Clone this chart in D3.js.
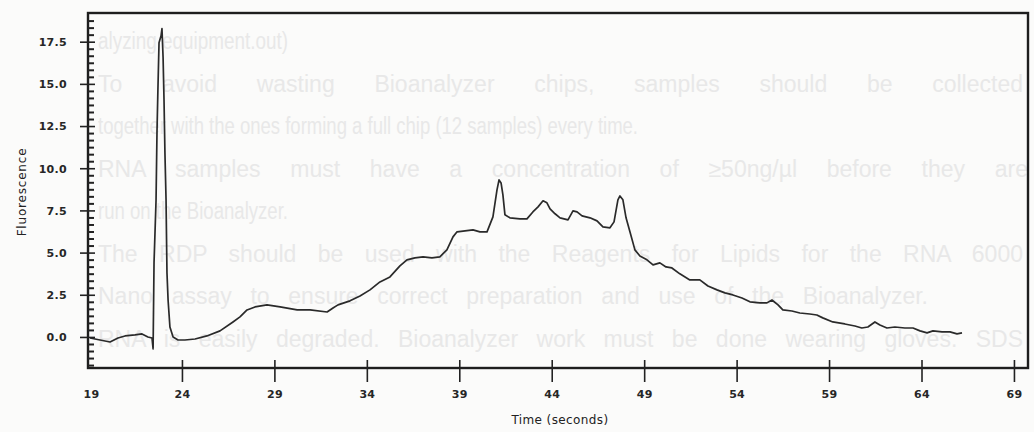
<!DOCTYPE html>
<html>
<head>
<meta charset="utf-8">
<script src="https://cdn.jsdelivr.net/npm/d3@7"></script>
<style>
  html, body { margin: 0; padding: 0; background: #fbfbfa; }
  svg { display: block; }
  .tick-label { font-family: "DejaVu Sans", "Liberation Sans", sans-serif; font-size: 11px; font-weight: bold; fill: #262626; letter-spacing: 0.3px; }
  .ghost { font-family: "Liberation Sans", Arial, sans-serif; font-size: 23px; fill: #e8e8e8; }
</style>
</head>
<body>
<script>
// Electropherogram trace: migration time (s) vs fluorescence
const timeSec = [
  19.03, 19.57, 20.11, 20.54, 20.92, 21.46, 21.84, 22.16, 22.38, 22.44,
  22.49, 22.60, 22.65, 22.70, 22.76, 22.87, 22.92, 22.98, 23.03, 23.08,
  23.14, 23.19, 23.25, 23.35, 23.52, 23.79, 24.16, 24.71, 25.35, 26.06,
  26.76, 27.14, 27.52, 27.95, 28.60, 29.31, 30.23, 30.93, 31.85, 32.17,
  32.44, 33.09, 33.63, 34.17, 34.71, 35.25, 35.79, 36.17, 36.60, 37.04,
  37.52, 37.95, 38.33, 38.66, 38.88, 39.31, 39.74, 40.12, 40.50, 40.82,
  41.04, 41.15, 41.26, 41.36, 41.47, 41.74, 42.28, 42.66, 42.98, 43.26,
  43.53, 43.74, 43.91, 44.18, 44.45, 44.88, 45.15, 45.37, 45.64, 46.07,
  46.45, 46.77, 47.15, 47.37, 47.58, 47.69, 47.85, 48.02, 48.23, 48.50,
  48.77, 49.15, 49.48, 49.85, 50.18, 50.50, 50.93, 51.47, 52.01, 52.45,
  52.94, 53.37, 53.80, 54.29, 54.72, 55.26, 55.64, 55.91, 56.24, 56.50,
  56.99, 57.42, 57.96, 58.34, 58.66, 59.20, 59.85, 60.40, 60.77, 61.10,
  61.48, 61.75, 62.13, 62.56, 63.10, 63.54, 63.92, 64.30, 64.62, 65.11,
  65.54, 65.92, 66.19
];
const fluorescence = [
  -0.06, -0.18, -0.30, -0.06, 0.06, 0.12, 0.18, 0.00, -0.06, -0.71,
  4.39, 8.13, 12.10, 14.65, 17.44, 17.85, 18.27, 16.55, 14.06, 10.91,
  8.13, 3.80, 2.19, 0.59, 0.00, -0.18, -0.18, -0.12, 0.06, 0.36,
  0.89, 1.19, 1.60, 1.78, 1.90, 1.78, 1.60, 1.60, 1.48, 1.72,
  1.90, 2.14, 2.43, 2.79, 3.26, 3.56, 4.21, 4.57, 4.69, 4.75,
  4.69, 4.75, 5.16, 5.93, 6.23, 6.29, 6.35, 6.23, 6.23, 7.12,
  8.72, 9.31, 9.13, 8.42, 7.24, 7.06, 7.00, 7.00, 7.41, 7.71,
  8.07, 7.95, 7.59, 7.30, 7.06, 6.94, 7.47, 7.41, 7.18, 7.06,
  6.88, 6.52, 6.47, 6.82, 8.13, 8.36, 8.13, 7.06, 6.23, 5.16,
  4.80, 4.57, 4.27, 4.39, 4.15, 4.09, 3.74, 3.38, 3.38, 3.02,
  2.79, 2.61, 2.49, 2.31, 2.08, 2.02, 2.02, 2.19, 1.90, 1.60,
  1.54, 1.42, 1.36, 1.30, 1.13, 0.89, 0.77, 0.65, 0.53, 0.59,
  0.89, 0.71, 0.53, 0.59, 0.53, 0.53, 0.36, 0.24, 0.36, 0.30,
  0.30, 0.18, 0.24
];
const xTickValues = [24, 29, 34, 39, 44, 49, 54, 59, 64, 69];
const xTickLabels = ["19", "24", "29", "34", "39", "44", "49", "54", "59", "64", "69"];
const yTickValues = [0, 2.5, 5, 7.5, 10, 12.5, 15, 17.5];
const yTickLabels = ["0.0", "2.5", "5.0", "7.5", "10.0", "12.5", "15.0", "17.5"];

// Text from the reverse side of the printed page showing through
const backText = [
  "alyzing equipment.out)",
  "To avoid wasting Bioanalyzer chips, samples should be collected",
  "together with the ones forming a full chip (12 samples) every time.",
  "RNA samples must have a concentration of \u226550ng/\u00b5l before they are",
  "run on the Bioanalyzer.",
  "The RDP should be used with the Reagents for Lipids for the RNA 6000",
  "Nano assay to ensure correct preparation and use of the Bioanalyzer.",
  "RNA is easily degraded. Bioanalyzer work must be done wearing gloves. SDS"
];
const backTextWidth = [190, 925, 540, 930, 190, 925, 830, 925];

const W = 1034, H = 432;
const plot = { left: 88, right: 1028, top: 13, bottom: 368 };

const svg = d3.select("body").append("svg").attr("width", W).attr("height", H);

// faint show-through text, justified by widening the word gaps
const ghost = svg.append("g");
ghost.selectAll("text").data(backText).join("text")
  .attr("class", "ghost")
  .attr("x", 98)
  .attr("y", (d, i) => 49 + i * 42.5)
  .text(d => d)
  .each(function (d, i) {
    const natural = this.getComputedTextLength();
    const gaps = d.split(" ").length - 1;
    const extra = backTextWidth[i] - natural;
    if (gaps > 0 && extra > 0) d3.select(this).attr("word-spacing", extra / gaps);
    else if (extra < 0) d3.select(this).attr("textLength", backTextWidth[i]).attr("lengthAdjust", "spacingAndGlyphs");
  });

const x = d3.scaleLinear().domain([19, 69.76]).range([plot.left + 1.5, plot.right]);
const y = d3.scaleLinear().domain([-1.84, 19.2]).range([plot.bottom, plot.top]);

// trace
const pts = timeSec.map((t, i) => [t, fluorescence[i]]);
svg.append("path")
  .datum(pts)
  .attr("fill", "none")
  .attr("stroke", "#2a2a2a")
  .attr("stroke-width", 1.7)
  .attr("stroke-linejoin", "round")
  .attr("d", d3.line().x(d => x(d[0])).y(d => y(d[1])));

// frame
svg.append("rect")
  .attr("x", plot.left).attr("y", plot.top)
  .attr("width", plot.right - plot.left).attr("height", plot.bottom - plot.top)
  .attr("fill", "none").attr("stroke", "#1e1e1e").attr("stroke-width", 2.4);

// y axis: major ticks crossing the axis, minor ticks inside
const minorY = d3.range(-1.6667, 19.1, 2.5 / 6).filter(v => !yTickValues.some(m => Math.abs(m - v) < 0.01));
const yMinor = d3.axisRight(y).tickValues(minorY).tickSize(6).tickFormat("");
svg.append("g").attr("transform", `translate(${plot.left},0)`).call(yMinor)
  .call(g => g.select(".domain").remove())
  .call(g => g.selectAll("line").attr("stroke", "#222").attr("stroke-width", 2));

const yAxis = d3.axisLeft(y).tickValues(yTickValues).tickSizeInner(8).tickSizeOuter(0)
  .tickFormat((d, i) => yTickLabels[i]);
svg.append("g").attr("transform", `translate(${plot.left},0)`).call(yAxis)
  .call(g => g.select(".domain").remove())
  .call(g => g.selectAll("line").attr("x2", 7).attr("x1", -8).attr("stroke", "#222").attr("stroke-width", 1.6))
  .call(g => g.selectAll("text").attr("class", "tick-label").attr("x", -21).attr("dy", "0.35em"));

// x axis
const xAxis = d3.axisBottom(x).tickValues(xTickValues).tickSizeOuter(0)
  .tickFormat(d => d);
svg.append("g").attr("transform", `translate(0,${plot.bottom})`).call(xAxis)
  .call(g => g.select(".domain").remove())
  .call(g => g.selectAll("line").attr("y1", -8).attr("y2", 14).attr("stroke", "#222").attr("stroke-width", 1.6))
  .call(g => g.selectAll("text").attr("class", "tick-label").attr("y", 30).attr("dy", "0"));
// label under the left edge (19)
svg.append("text").attr("class", "tick-label")
  .attr("x", x(19) + 2).attr("y", plot.bottom + 30).attr("text-anchor", "middle")
  .text(xTickLabels[0]);

// axis titles
svg.append("text")
  .attr("x", 560).attr("y", 424).attr("text-anchor", "middle")
  .attr("font-family", "DejaVu Sans, sans-serif").attr("font-size", 12).attr("fill", "#222")
  .attr("letter-spacing", 0.4)
  .text("Time (seconds)");
svg.append("text")
  .attr("transform", "translate(26,192) rotate(-90)").attr("text-anchor", "middle")
  .attr("font-family", "DejaVu Sans, sans-serif").attr("font-size", 12).attr("fill", "#222")
  .attr("letter-spacing", 0.8)
  .text("Fluorescence");
</script>
</body>
</html>
